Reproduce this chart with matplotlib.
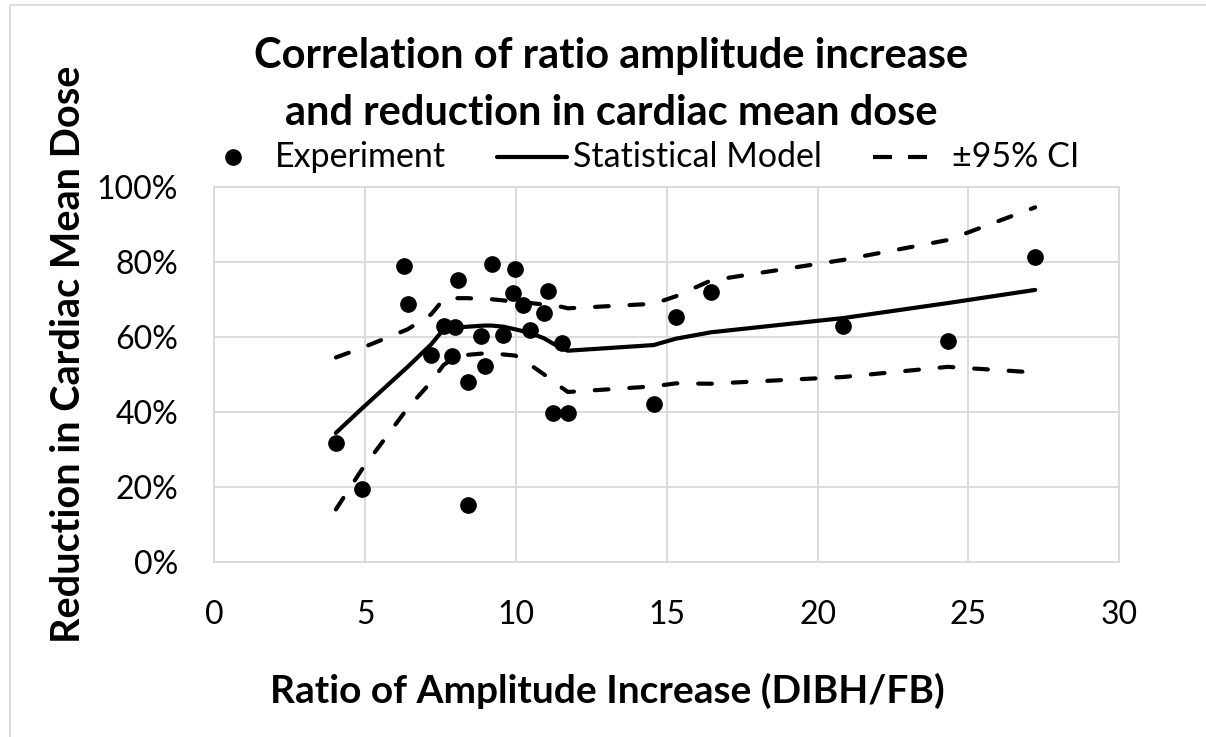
import numpy as np
import matplotlib
matplotlib.use("Agg")
import matplotlib.pyplot as plt
from matplotlib.ticker import PercentFormatter
from matplotlib.lines import Line2D
from matplotlib.patches import Rectangle

plt.rcParams['font.family'] = ['Lato', 'DejaVu Sans']

# experiment points: amplitude ratio (DIBH/FB) vs reduction in cardiac mean dose
exp_x = [4.03, 4.88, 6.28, 6.41, 7.19, 7.60, 7.87, 7.98, 8.07, 8.41, 8.42, 8.83,
         8.96, 9.20, 9.58, 9.91, 9.98, 10.22, 10.48, 10.93, 11.07, 11.23, 11.51,
         11.72, 14.56, 15.30, 16.46, 20.85, 24.32, 27.21]
exp_y = [0.318, 0.195, 0.790, 0.688, 0.551, 0.629, 0.548, 0.626, 0.751, 0.480,
         0.152, 0.602, 0.522, 0.794, 0.606, 0.717, 0.782, 0.684, 0.618, 0.664,
         0.721, 0.396, 0.584, 0.396, 0.421, 0.652, 0.719, 0.629, 0.589, 0.813]

# statistical model and 95% CI band
model_x = [4.03, 4.88, 6.41, 7.19, 7.60, 7.98, 8.41, 8.96, 9.20, 9.58, 9.98,
           10.48, 10.93, 11.23, 11.51, 11.72, 14.56, 15.30, 16.46, 20.85,
           24.32, 27.21]
model_y = [0.344, 0.408, 0.520, 0.580, 0.620, 0.625, 0.627, 0.630, 0.630, 0.627,
           0.620, 0.610, 0.596, 0.582, 0.570, 0.563, 0.578, 0.595, 0.612, 0.650,
           0.690, 0.725]
ci_hi = [0.545, 0.570, 0.620, 0.660, 0.700, 0.703, 0.703, 0.700, 0.700, 0.697,
         0.693, 0.690, 0.686, 0.683, 0.680, 0.676, 0.688, 0.708, 0.750, 0.805,
         0.858, 0.945]
ci_lo = [0.140, 0.245, 0.410, 0.480, 0.525, 0.545, 0.552, 0.556, 0.556, 0.553,
         0.550, 0.525, 0.500, 0.480, 0.465, 0.453, 0.468, 0.476, 0.475, 0.493,
         0.520, 0.505]

W, H = 1206, 737
fig = plt.figure(figsize=(W / 100, H / 100), dpi=100)
fig.patches.append(Rectangle((10 / W, -0.1), 1.2, 1 - 5 / H + 0.1,
                             transform=fig.transFigure, fill=False,
                             edgecolor='#d9d9d9', linewidth=1.3))

def fx(px):
    return px / W

def fy(py):
    return 1 - py / H

ax = fig.add_axes([fx(214.3), fy(562), 905 / W, 375.3 / H])

grid_c = '#d9d9d9'
dash = (3.3, 5.0)
ax.plot(model_x, model_y, color='black', lw=3, solid_capstyle='round', zorder=3)
ax.plot(model_x, ci_hi, color='black', lw=3, dashes=dash,
        dash_capstyle='round', zorder=3)
ax.plot(model_x, ci_lo, color='black', lw=3, dashes=dash,
        dash_capstyle='round', zorder=3)
ax.plot(exp_x, exp_y, 'o', color='black', ms=11, zorder=4)

ax.set_xlim(0, 30)
ax.set_ylim(0, 1)
ax.set_xticks(np.arange(0, 31, 5))
ax.set_yticks(np.arange(0, 1.01, 0.2))
ax.yaxis.set_major_formatter(PercentFormatter(1.0, decimals=0))
ax.grid(True, color=grid_c, lw=1.3)
ax.set_axisbelow(True)
for s in ax.spines.values():
    s.set_color(grid_c)
    s.set_linewidth(1.3)
ax.tick_params(length=0, labelsize=23, labelcolor='black')
ax.tick_params(axis='y', pad=26)
ax.tick_params(axis='x', pad=27)

fig.text(fx(611), fy(68.3), 'Correlation of ratio amplitude increase',
         ha='center', va='baseline', fontsize=30, fontweight='bold')
fig.text(fx(611), fy(125), 'and reduction in cardiac mean dose',
         ha='center', va='baseline', fontsize=30, fontweight='bold')
fig.text(fx(607), fy(703), 'Ratio of Amplitude Increase (DIBH/FB)',
         ha='center', va='baseline', fontsize=28, fontweight='bold')
fig.text(fx(80), fy(354.5), 'Reduction in Cardiac Mean Dose',
         ha='center', va='baseline', rotation=90, rotation_mode='anchor',
         fontsize=28.5, fontweight='bold')

# legend row, laid out like the original
leg_y = fy(157)
leg_base = fy(167.3)
fig.add_artist(Line2D([fx(232.7)], [leg_y], ls='none', marker='o',
                      color='black', ms=11, transform=fig.transFigure))
fig.text(fx(275), leg_base, 'Experiment', ha='left', va='baseline', fontsize=24.5)
fig.add_artist(Line2D([fx(496.7), fx(566.7)], [leg_y, leg_y], color='black',
                      lw=3, solid_capstyle='round', transform=fig.transFigure))
fig.text(fx(573), leg_base, 'Statistical Model', ha='left', va='baseline',
         fontsize=24.5)
fig.add_artist(Line2D([fx(873), fx(927)], [leg_y, leg_y], color='black', lw=3,
                      dashes=(4.56, 3.84), dash_capstyle='butt',
                      transform=fig.transFigure))
fig.text(fx(951.7), leg_base, '±95% CI', ha='left', va='baseline', fontsize=24.5)

fig.savefig('out.png', dpi=100)
